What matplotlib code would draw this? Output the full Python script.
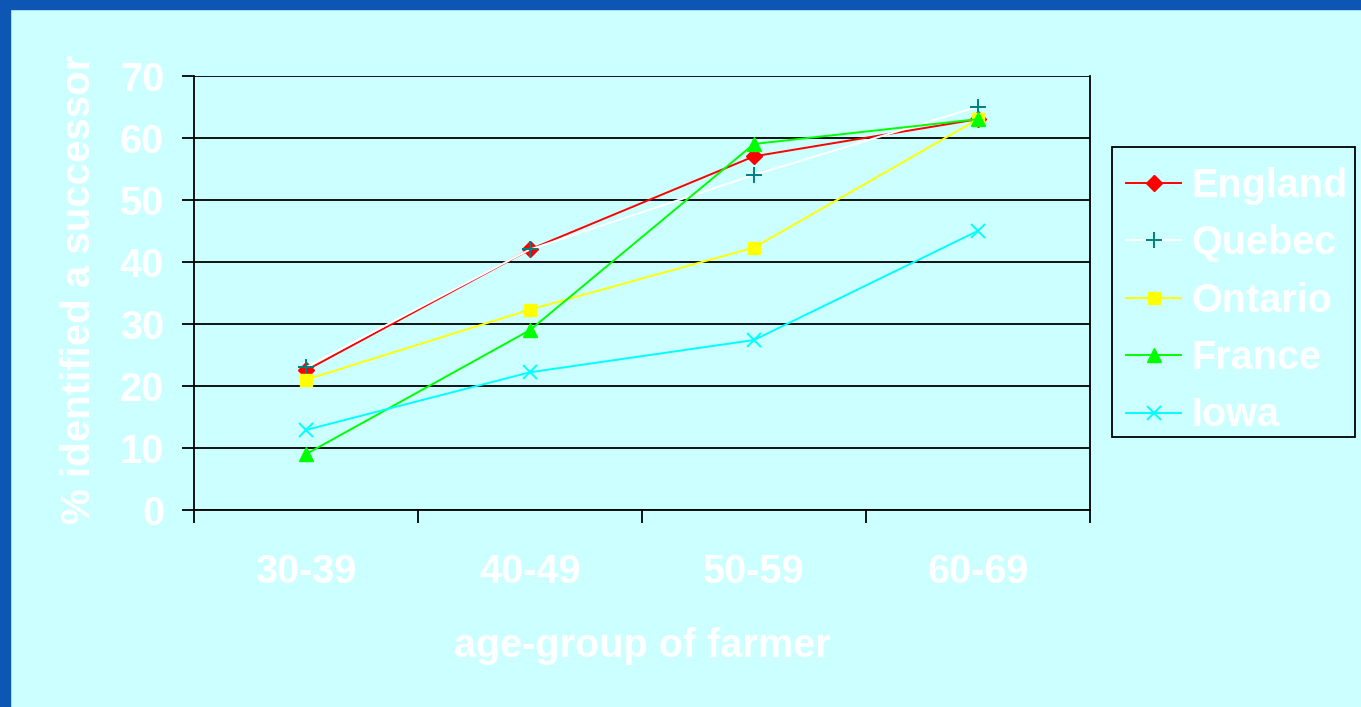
import matplotlib.pyplot as plt
from matplotlib.patches import Rectangle
from matplotlib.ticker import FixedLocator, NullFormatter
import numpy as np

plt.rcParams['font.family'] = ['Liberation Sans', 'DejaVu Sans']

age_groups = ['30-39', '40-49', '50-59', '60-69']
england = [22.5, 42, 57, 63]
quebec = [23, 42, 54, 65]
ontario = [21, 32.3, 42.3, 63]
france = [9, 29, 59, 63]
iowa = [12.9, 22.2, 27.4, 45]

BG = '#ccffff'
FRAME = '#0d56b3'
FS = 28.5

W, H = 1361, 707
fig = plt.figure(figsize=(W / 100, H / 100), dpi=100, facecolor=BG)

# blue slide border along the top and left edges
fig.patches.append(Rectangle((0, 1 - 9 / H), 1, 9 / H, transform=fig.transFigure,
                             color=FRAME, zorder=0))
fig.patches.append(Rectangle((0, 0), 10 / W, 1, transform=fig.transFigure,
                             color=FRAME, zorder=0))

ax = fig.add_axes([194 / W, (H - 510) / H, 896 / W, (510 - 75.7) / H])
ax.set_facecolor(BG)

x = np.arange(len(age_groups))
series = [
    ('England', england, '#ff0000', dict(marker='D', markersize=8, markerfacecolor='#ff0000', markeredgecolor='#ff0000')),
    ('Quebec', quebec, '#ffffff', dict(marker='+', markersize=11, markeredgecolor='#007f7f', markeredgewidth=1.4)),
    ('Ontario', ontario, '#ffff00', dict(marker='s', markersize=8.5, markerfacecolor='#ffff00', markeredgecolor='#ffff00')),
    ('France', france, '#00ff00', dict(marker='^', markersize=10.5, markerfacecolor='#00ff00', markeredgecolor='#00ff00')),
    ('Iowa', iowa, '#00ffff', dict(marker='x', markersize=10, markeredgecolor='#00ffff', markeredgewidth=1.4)),
]
for name, vals, col, mk in series:
    ax.plot(x, vals, color=col, linewidth=1.4, label=name, clip_on=False, **mk)

ax.set_xlim(-0.5, len(age_groups) - 0.5)
ax.set_ylim(0, 70)
ax.set_yticks(np.arange(0, 71, 10))
ax.yaxis.grid(True, color='black', linewidth=1.3)
ax.set_axisbelow(True)

ax.set_xticks(x)
ax.set_xticklabels(age_groups)
ax.xaxis.set_minor_locator(FixedLocator(np.arange(-0.5, len(age_groups), 1.0)))
ax.xaxis.set_minor_formatter(NullFormatter())
ax.tick_params(axis='x', which='major', length=0, pad=31)
ax.tick_params(axis='x', which='minor', length=9.4, width=1.3, color='black')
ax.tick_params(axis='y', length=8.6, width=1.3, color='black', pad=13)
for lbl in ax.get_xticklabels() + ax.get_yticklabels():
    lbl.set_color('white')
    lbl.set_fontsize(FS)
    lbl.set_fontweight('bold')

for sp in ax.spines.values():
    sp.set_color('black')
    sp.set_linewidth(1.3)
ax.spines['top'].set_visible(False)

ax.set_xlabel('age-group of farmer', color='white', fontsize=FS,
              fontweight='bold', labelpad=26)
ax.set_ylabel('% identified a successor', color='white', fontsize=FS + 0.5,
              fontweight='bold')
ax.yaxis.set_label_coords(-0.107, 0.509)

# legend box drawn separately so its frame can be sized freely
fig.patches.append(Rectangle((1112 / W, 1 - 437 / H), (1355 - 1112) / W, (437 - 147) / H,
                             transform=fig.transFigure, facecolor=BG,
                             edgecolor='black', linewidth=1.3, zorder=1))
leg = fig.legend(loc='upper left', bbox_to_anchor=(1106 / W, 1 - 147 / H),
                 borderaxespad=0, frameon=False,
                 handlelength=1.4, handletextpad=0.25, labelspacing=0.49,
                 borderpad=0.5,
                 prop={'size': FS, 'weight': 'bold'})
for t in leg.get_texts():
    t.set_color('white')

fig.savefig('out.png', dpi=100, facecolor=BG)
